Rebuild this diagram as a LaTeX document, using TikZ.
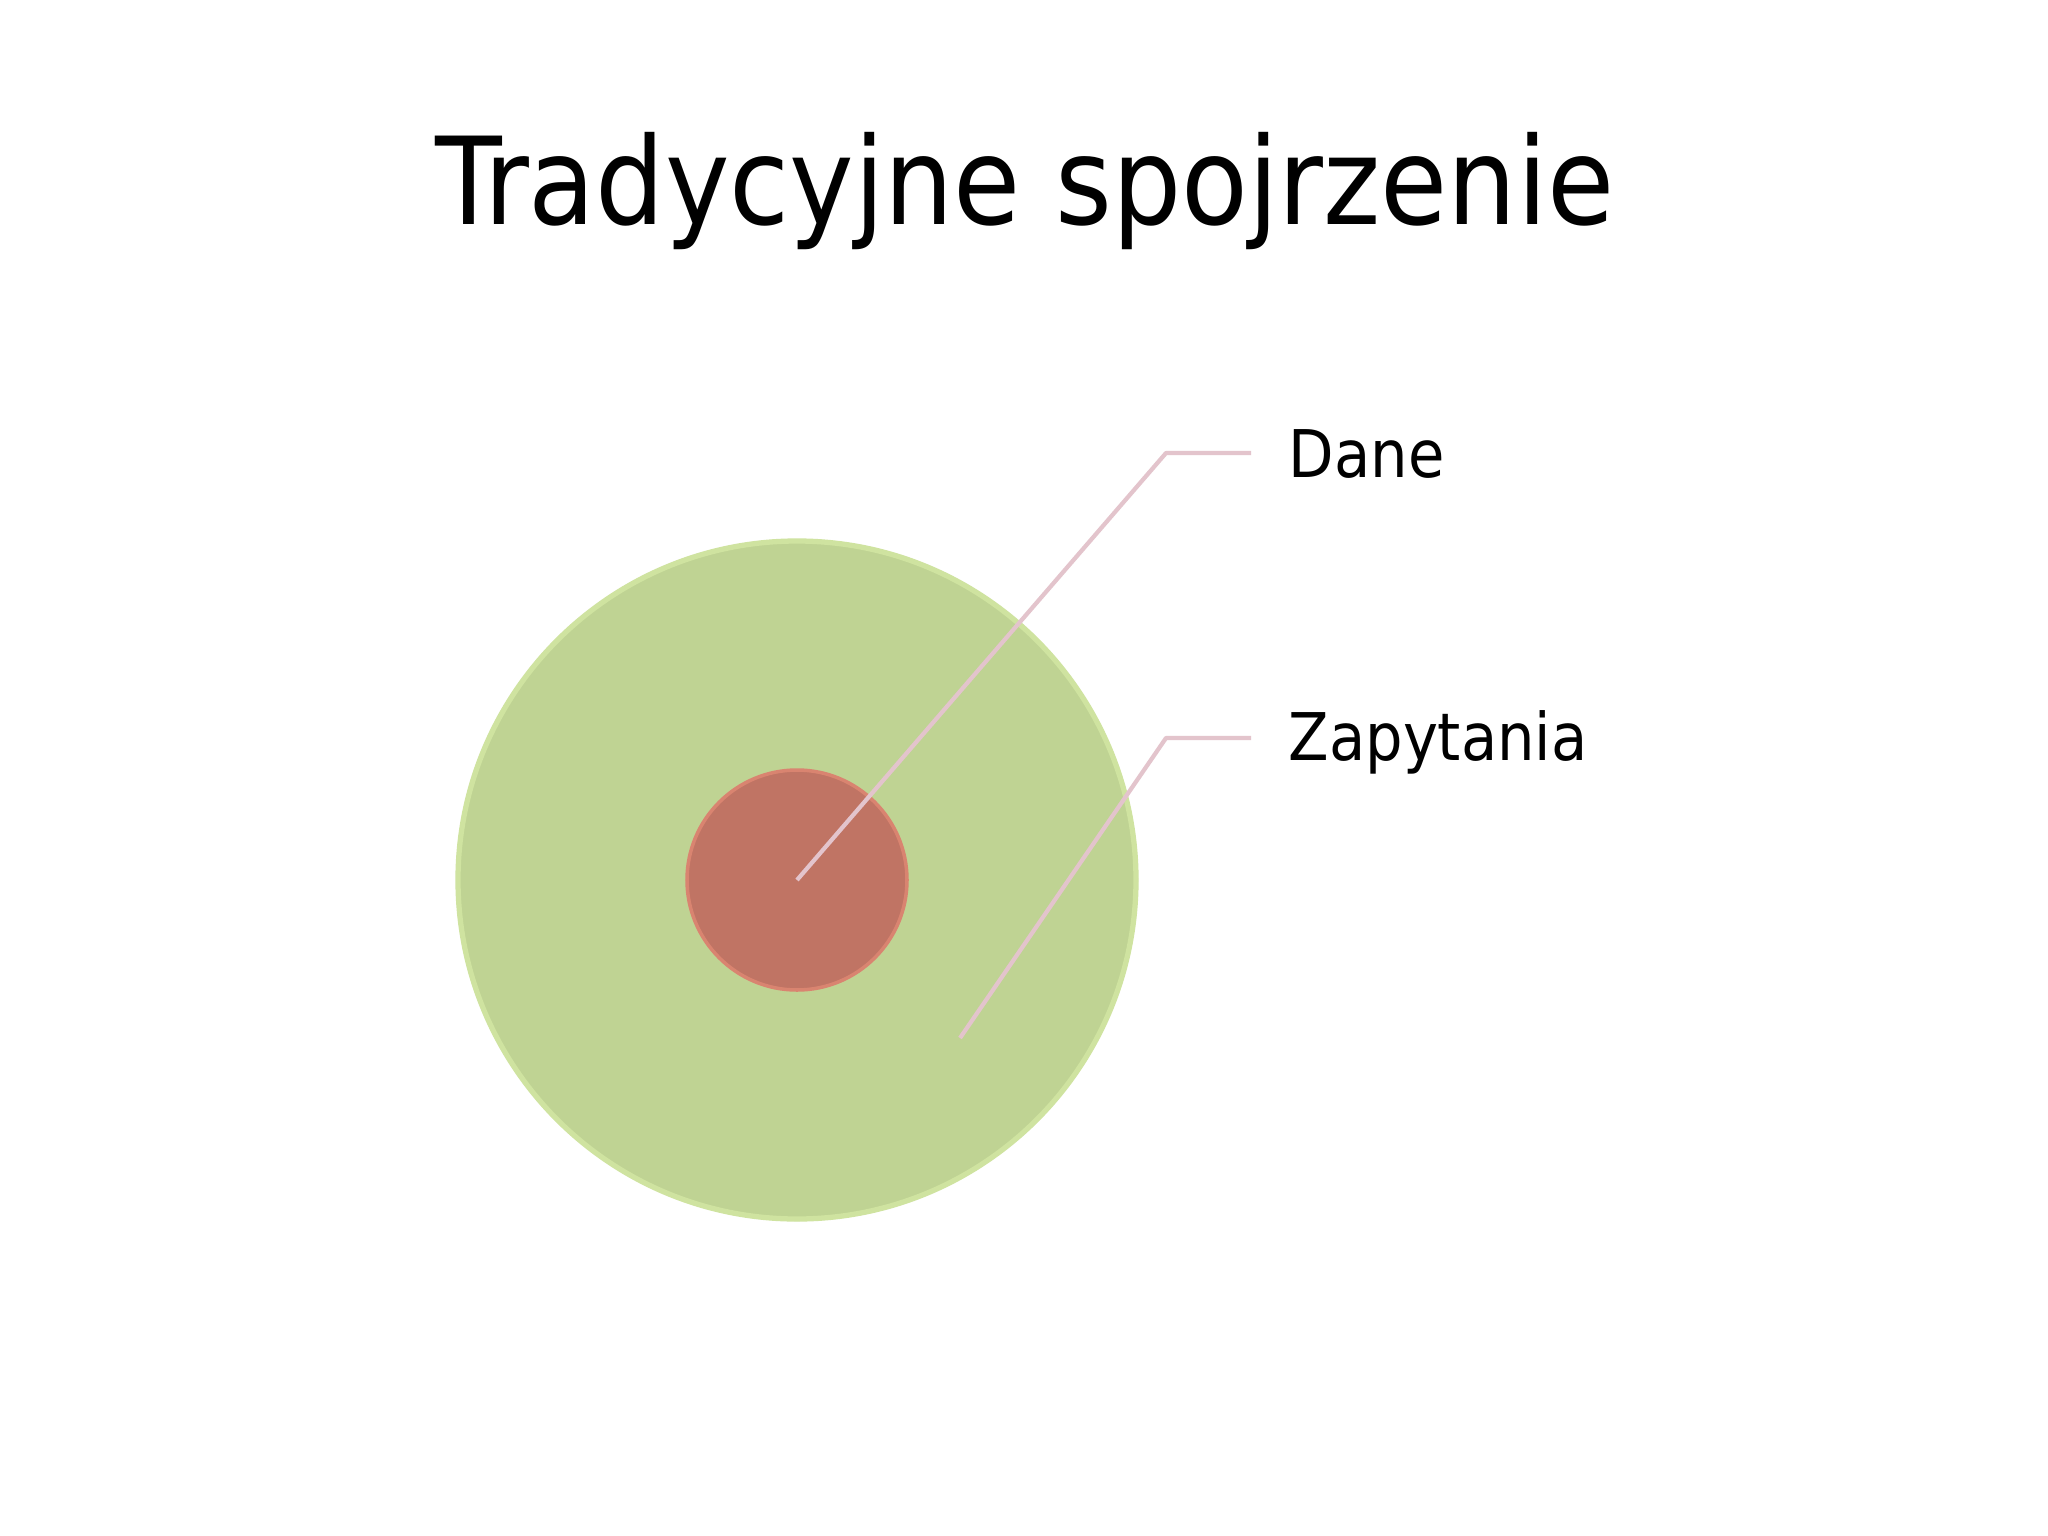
\documentclass[tikz,border=0pt]{standalone}
\usepackage{fontspec}
\setmainfont{DejaVu Sans Condensed}
\usepackage{tikz}
\usetikzlibrary{calc}
\usetikzlibrary{positioning}
\definecolor{ringgreen}{HTML}{BFD393}
\definecolor{ringrim}{HTML}{CFE3A0}
\definecolor{corered}{HTML}{C07464}
\definecolor{corerim}{HTML}{D98470}
\definecolor{leaderpink}{HTML}{E3C4CC}

\begin{document}
\begin{tikzpicture}[x=0.01cm,y=-0.01cm]
	\tikzset{leader/.style={draw=leaderpink,line width=1.2pt,line join=round},
		label/.style={anchor=base west,inner sep=0pt,font=\fontsize{18.7}{22}\selectfont}}
	\useasboundingbox[fill=white] (0,0) rectangle (2048,1536);
	
	\coordinate (core) at (797,880);
	\coordinate (danebend) at (1166,453);
	\coordinate (daneend) at (1251,453);
	\coordinate (zapstart) at (960,1038);
	\coordinate (zapbend) at (1166,738);
	\coordinate (zapend) at (1251,738);
	
	\node[anchor=base,inner sep=0pt,font=\fontsize{34.5}{41}\selectfont] (title) at (1025,224) {Tradycyjne spojrzenie};
	
	\fill[ringgreen] (core) circle[radius=341];
	\draw[ringrim,line width=1.5pt] (core) circle[radius=339];
	\fill[corered] (core) circle[radius=111];
	\draw[corerim,line width=1pt] (core) circle[radius=110];
	
	\draw[leader] (core) -- (danebend) -- (daneend);
	\node[label] (dane) at (1288,477) {Dane};
	\draw[leader] (zapstart) -- (zapbend) -- (zapend);
	\node[label] (zapytania) at (1288,760) {Zapytania};
	
\end{tikzpicture}
\end{document}
